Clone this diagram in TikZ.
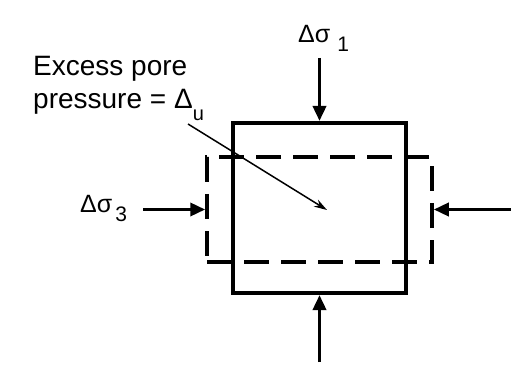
\documentclass[tikz,border=0pt]{standalone}
\usepackage{fontspec}
\setmainfont{Liberation Sans}
\usetikzlibrary{arrows.meta}
\newcommand\mysub[3]{#1\hspace{#3}\raisebox{-9pt}{\fontsize{21}{21}\selectfont #2}}
\begin{document}
\begin{tikzpicture}[x=1pt,y=-1pt,
  force/.style={line width=3.5pt,-{Triangle[length=15pt,width=13pt]}},
  porearrow/.style={line width=1.5pt,-{Stealth[length=13pt,width=8pt]}},
  lbl/.style={font=\fontsize{28}{33}\selectfont,inner sep=0pt},
  sym/.style={font=\fontsize{25}{30}\selectfont,inner sep=0pt}]
\useasboundingbox[fill=white] (0,0) rectangle (511,374);
% boxes
\node[draw,dash pattern=on 25pt off 12pt,line width=3.5pt,minimum width=225pt,minimum height=105pt,inner sep=0pt] (db) at (319.5,209.5) {};
\node[draw,line width=4pt,minimum width=173pt,minimum height=170pt,inner sep=0pt] (sb) at (319.5,208) {};
% force arrows
\coordinate (t1) at (319.5,58);
\coordinate (b1) at (319.5,362);
\coordinate (l1) at (143,209.5);
\coordinate (r1) at (511,209.5);
\draw[force] (t1) -- (sb.north);
\draw[force] (b1) -- (sb.south);
\draw[force] (l1) -- (db.west);
\draw[force] (r1) -- (db.east);
% labels
\node[sym,anchor=base west] (s1) at (298,43) {\mysub{Δσ}{1}{7pt}};
\node[sym,anchor=base west] (s3) at (80,212) {\mysub{Δσ}{3}{3pt}};
\node[lbl,anchor=base west] (ep1) at (33,76) {Excess pore};
\node[lbl,anchor=base west] (ep2) at (33,109) {pressure = Δ\raisebox{-12pt}{\fontsize{20}{20}\selectfont u}};
% pore pressure pointer
\coordinate (ps) at (188,124);
\coordinate (pe) at (327,210);
\draw[porearrow] (ps) -- (pe);
\end{tikzpicture}
\end{document}
